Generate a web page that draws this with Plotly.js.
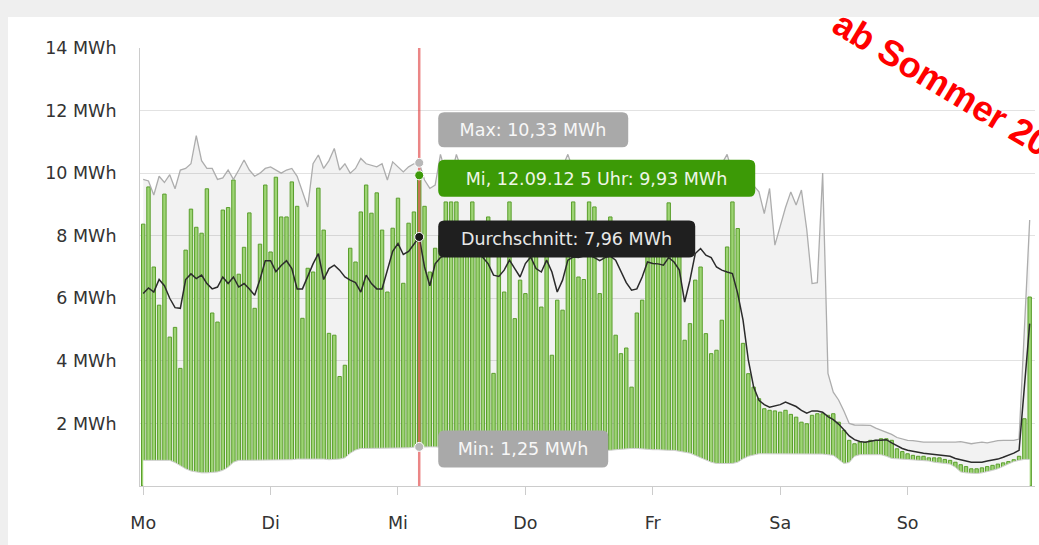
<!DOCTYPE html>
<html><head><meta charset="utf-8">
<script src="https://cdn.plot.ly/plotly-3.0.1.min.js"></script>
<style>html,body{margin:0;padding:0;background:#efefef;overflow:hidden}#chart{width:1039px;height:545px}</style>
</head><body><div id="chart"></div>
<script>
const dayLabels = ['Mo','Di','Mi','Do','Fr','Sa','So'];
const dayTicks = [0,24,48,72,96,120,144];
const yTicks = [2,4,6,8,10,12,14];
const unit = 'MWh';

const hourly = [
 8.37,9.56,7.0,5.78,9.33,4.76,5.07,3.76,7.54,8.85,
 8.27,8.08,9.5,5.53,5.24,8.82,8.9,9.78,6.77,7.63,
 8.73,5.68,7.73,9.62,7.48,9.87,8.6,8.6,9.72,8.94,
 5.36,6.96,6.84,9.52,8.18,4.88,4.82,3.5,3.86,7.6,
 7.16,8.76,9.62,8.72,9.37,8.18,6.2,8.24,9.2,6.48,
 8.4,8.76,9.93,8.94,6.84,7.6,8.0,9.08,9.08,9.08,
 8.2,7.9,9.08,8.3,7.7,8.6,3.6,7.5,6.2,9.08,
 5.35,6.58,6.15,7.8,8.0,5.72,7.6,4.18,5.94,5.62,
 7.8,9.08,6.68,6.6,9.08,8.92,6.15,7.8,8.6,4.82,
 4.23,4.41,3.16,5.53,5.94,7.6,7.9,8.0,7.7,9.05,
 7.9,7.5,4.66,5.19,6.58,7.0,4.87,4.23,4.34,5.3,
 7.64,9.08,8.23,4.56,3.59,3.16,2.79,2.47,2.42,2.4,
 2.36,2.42,2.29,2.2,2.04,1.99,2.26,2.31,2.31,2.26,
 2.31,2.04,1.78,1.46,1.35,1.4,1.4,1.46,1.46,1.51,
 1.51,1.46,1.19,1.1,1.03,0.98,0.95,0.95,0.9,0.9,
 0.9,0.85,0.82,0.76,0.68,0.62,0.55,0.55,0.58,0.62,
 0.66,0.7,0.74,0.78,0.84,0.95,2.15,6.04
];
const maxVals = [
 9.8,9.75,9.3,9.9,9.7,9.95,9.5,10.1,10.15,10.3,
 11.2,10.4,10.15,10.15,9.8,9.85,10.1,9.8,10.1,10.42,
 10.1,9.9,10.0,10.15,10.2,10.1,10.0,10.1,10.15,9.9,
 9.4,8.92,10.3,10.58,10.15,10.4,10.79,10.1,10.3,10.0,
 10.15,10.47,10.3,10.25,10.2,10.3,9.78,10.36,10.2,10.04,
 10.2,10.3,10.33,9.78,9.51,9.62,10.6,10.0,9.9,10.6,
 10.1,9.8,10.2,9.9,10.0,10.1,9.7,9.9,10.2,10.0,
 9.8,10.1,9.9,10.2,10.0,9.8,10.1,9.9,10.0,10.2,
 10.6,10.1,9.9,10.0,10.2,9.9,9.8,10.0,10.1,9.9,
 9.7,9.9,10.0,10.2,9.9,10.1,10.0,9.8,10.1,10.2,
 9.9,10.0,9.7,9.9,10.1,10.2,9.9,10.0,10.1,10.3,
 10.6,10.0,9.9,9.7,9.8,9.6,9.4,8.71,9.51,7.7,
 8.3,8.9,9.4,8.98,9.46,8.2,6.47,6.5,10.0,3.6,
 3.0,2.75,2.4,2.0,1.95,1.94,1.94,1.94,1.85,1.78,
 1.73,1.65,1.55,1.5,1.46,1.45,1.42,1.4,1.4,1.4,
 1.4,1.38,1.38,1.4,1.42,1.38,1.35,1.38,1.4,1.38,
 1.42,1.45,1.46,1.46,1.46,1.5,5.0,8.5
];
const minVals = [
 0.82,0.82,0.82,0.82,0.82,0.82,0.75,0.65,0.55,0.48,
 0.44,0.42,0.42,0.44,0.45,0.5,0.6,0.76,0.82,0.82,
 0.82,0.82,0.82,0.82,0.82,0.82,0.82,0.84,0.84,0.86,
 0.86,0.86,0.88,0.88,0.86,0.84,0.84,0.86,0.9,1.05,
 1.15,1.2,1.2,1.2,1.2,1.2,1.2,1.22,1.22,1.2,
 1.22,1.24,1.25,1.25,1.25,1.25,1.24,1.22,1.22,1.2,
 1.2,1.2,1.2,1.2,1.2,1.2,1.2,1.2,1.2,1.2,
 1.2,1.2,1.2,1.2,1.2,1.2,1.2,1.2,1.2,1.2,
 1.2,1.2,1.2,1.2,1.18,1.16,1.15,1.14,1.14,1.16,
 1.18,1.18,1.2,1.2,1.18,1.18,1.16,1.16,1.14,1.14,
 1.14,1.12,1.08,1.05,0.98,0.9,0.82,0.76,0.72,0.72,
 0.72,0.72,0.76,0.87,0.95,1.0,1.03,1.03,1.03,1.03,
 1.03,1.03,1.03,1.03,1.03,1.03,1.03,1.03,1.02,1.0,
 0.98,0.85,0.72,0.75,0.95,1.0,1.0,1.0,1.0,1.0,
 0.95,0.88,0.87,0.86,0.85,0.85,0.84,0.82,0.8,0.76,
 0.74,0.72,0.7,0.6,0.45,0.42,0.4,0.4,0.42,0.45,
 0.5,0.55,0.62,0.7,0.78,0.82,0.85,0.85
];
const avgVals = [
 6.15,6.33,6.2,6.6,6.4,6.0,5.7,5.68,6.6,6.78,
 6.63,6.74,6.47,6.3,6.36,6.68,6.47,6.68,6.36,6.47,
 6.3,6.1,6.6,7.2,7.2,6.85,7.05,7.2,6.95,6.3,
 6.3,6.7,7.1,7.43,6.6,6.95,7.06,6.9,6.68,6.58,
 6.5,6.2,6.74,6.47,6.3,6.3,6.9,7.5,7.75,7.4,
 7.5,7.75,7.96,7.0,6.4,7.1,7.3,7.4,7.5,7.6,
 7.5,7.4,7.6,7.5,7.3,7.1,6.74,6.7,6.9,7.22,
 6.95,6.68,7.11,7.32,6.95,6.84,7.22,6.84,6.2,6.58,
 7.22,7.32,7.3,7.35,7.4,7.3,7.2,7.3,7.35,7.22,
 6.85,6.5,6.26,6.3,6.68,7.16,7.11,7.1,7.06,7.3,
 7.16,6.9,5.88,6.58,7.43,7.59,7.38,7.3,7.0,6.9,
 6.84,6.79,6.15,5.3,4.02,3.16,2.74,2.6,2.52,2.56,
 2.6,2.68,2.6,2.54,2.42,2.33,2.4,2.4,2.36,2.22,
 2.12,1.98,1.8,1.6,1.48,1.42,1.4,1.44,1.46,1.46,
 1.48,1.38,1.28,1.2,1.14,1.1,1.08,1.05,1.03,1.02,
 1.0,0.98,0.95,0.88,0.84,0.8,0.76,0.76,0.76,0.8,
 0.82,0.86,0.92,0.98,1.05,1.14,3.16,5.19
];
const selIndex = 52;
const selLabel = 'Mi, 12.09.12 5 Uhr';
const noteText = 'ab Sommer 2013';

const hours = hourly.map((_, i) => i);
const xRange = [-0.6, hourly.length];
const yRange = [0, 14];
const FONT = 'DejaVu Sans, Verdana, sans-serif';
const fmt = v => v.toFixed(2).replace('.', ',') + ' ' + unit;

const traces = [
  {x: hours, y: minVals, type:'scatter', mode:'lines', line:{width:0, color:'rgba(0,0,0,0)'}, xaxis:'x', yaxis:'y', hoverinfo:'skip'},
  {x: hours, y: maxVals, type:'scatter', mode:'lines', line:{width:0, color:'rgba(0,0,0,0)'}, fill:'tonexty', fillcolor:'rgba(0,0,0,0.05)', xaxis:'x', yaxis:'y', hoverinfo:'skip'},
  {x: hours, y: hourly, type:'bar', xaxis:'x2', yaxis:'y',
   marker:{color:'#9dd474', line:{color:'#5a9e2c', width:1}}},
  {x: hours, y: minVals, type:'scatter', mode:'lines', fill:'tozeroy', fillcolor:'#ffffff',
   line:{color:'#cfcfcf', width:1}, xaxis:'x2', yaxis:'y'},
  {x: hours, y: maxVals, type:'scatter', mode:'lines', line:{color:'#adadad', width:1.3}, xaxis:'x2', yaxis:'y'},
  {x: hours, y: avgVals, type:'scatter', mode:'lines', line:{color:'#2b2b2b', width:1.5}, xaxis:'x2', yaxis:'y'},
  {x: [selIndex, selIndex], y: yRange, type:'scatter', mode:'lines', line:{color:'rgba(222,60,60,0.62)', width:2.5}, xaxis:'x2', yaxis:'y'},
  {x: [selIndex, selIndex, selIndex, selIndex],
   y: [maxVals[selIndex], hourly[selIndex], avgVals[selIndex], minVals[selIndex]],
   type:'scatter', mode:'markers', xaxis:'x2', yaxis:'y',
   marker:{size:9, color:['#b8b8b8','#3d9a0a','#1a1a1a','#b8b8b8'], line:{color:'#ffffff', width:1}}}
];

const tips = [
  {y: maxVals[selIndex], text:'Max: ' + fmt(maxVals[selIndex]), bg:'#a9a9a9', fg:'#f7f7f7', w:190, h:35, dy:33},
  {y: hourly[selIndex], text: selLabel + ': ' + fmt(hourly[selIndex]), bg:'#3c9a06', fg:'#eef6e6', w:317, h:37, dy:-3},
  {y: avgVals[selIndex], text:'Durchschnitt: ' + fmt(avgVals[selIndex]), bg:'#1f1f1f', fg:'#e8e8e8', w:257, h:37, dy:-2},
  {y: minVals[selIndex], text:'Min: ' + fmt(minVals[selIndex]), bg:'#a9a9a9', fg:'#f7f7f7', w:170, h:37, dy:-2}
];
const XOFF = 19, R = 6;
function roundRect(x0, y0, w, h, r) {
  const x1 = x0 + w, y1 = y0 + h;
  return `M${x0 + r},${y0} L${x1 - r},${y0} Q${x1},${y0} ${x1},${y0 + r} L${x1},${y1 - r} Q${x1},${y1} ${x1 - r},${y1} ` +
         `L${x0 + r},${y1} Q${x0},${y1} ${x0},${y1 - r} L${x0},${y0 + r} Q${x0},${y0} ${x0 + r},${y0} Z`;
}

const shapes = [{type:'rect', xref:'paper', yref:'paper', x0:-0.1475, x1:1.05, y0:-0.2, y1:1.0708,
    fillcolor:'#ffffff', line:{width:0}, layer:'below'}];
tips.forEach(t => shapes.push({
  type:'path', xref:'x', yref:'y', xsizemode:'pixel', ysizemode:'pixel',
  xanchor: selIndex, yanchor: t.y,
  path: roundRect(XOFF, t.dy - t.h / 2, t.w, t.h, R),
  fillcolor: t.bg, line:{width:0}, layer:'above'
}));

const annotations = tips.map(t => ({
  xref:'x', yref:'y', x: selIndex, y: t.y, xanchor:'left', yanchor:'middle',
  xshift:XOFF, yshift:t.dy, showarrow:false, text:t.text, bgcolor:'rgba(0,0,0,0)',
  width:t.w, height:t.h, borderpad:0, borderwidth:0, align:'center', valign:'middle',
  font:{family:FONT, size:17.5, color:t.fg}
}));
annotations.push({
  xref:'paper', yref:'paper', x:0.9146, y:0.8956, xanchor:'center', yanchor:'middle',
  showarrow:false, text:'<b>' + noteText + '</b>', textangle:31,
  font:{family:'Liberation Sans, Arial, sans-serif', size:36, color:'#ff0000'}
});

const layout = {
  width:1039, height:545,
  margin:{l:140, r:4, t:48, b:59},
  paper_bgcolor:'#efefef', plot_bgcolor:'#ffffff',
  showlegend:false, bargap:0.36,
  font:{family:FONT, color:'#333333'},
  xaxis:{range:xRange, tickvals:dayTicks, ticktext:dayLabels, showgrid:false, zeroline:false,
    showline:true, linecolor:'#cccccc', linewidth:1, ticks:'outside', ticklen:8, tickcolor:'#cccccc',
    ticklabelstandoff:13, tickfont:{family:FONT, size:17.5, color:'#333333'}, fixedrange:true},
  xaxis2:{range:xRange, overlaying:'x', visible:false, fixedrange:true},
  yaxis:{range:yRange, tickvals:yTicks, ticktext:yTicks.map(v => v + ' ' + unit),
    showgrid:true, gridcolor:'#e2e2e2', gridwidth:1, zeroline:false,
    showline:true, linecolor:'#cccccc', ticks:'outside', ticklen:19, tickcolor:'rgba(0,0,0,0)',
    tickfont:{family:FONT, size:17.5, color:'#333333'}, fixedrange:true},
  shapes: shapes,
  annotations: annotations
};

Plotly.newPlot('chart', traces, layout, {staticPlot:true, displayModeBar:false});
</script></body></html>
